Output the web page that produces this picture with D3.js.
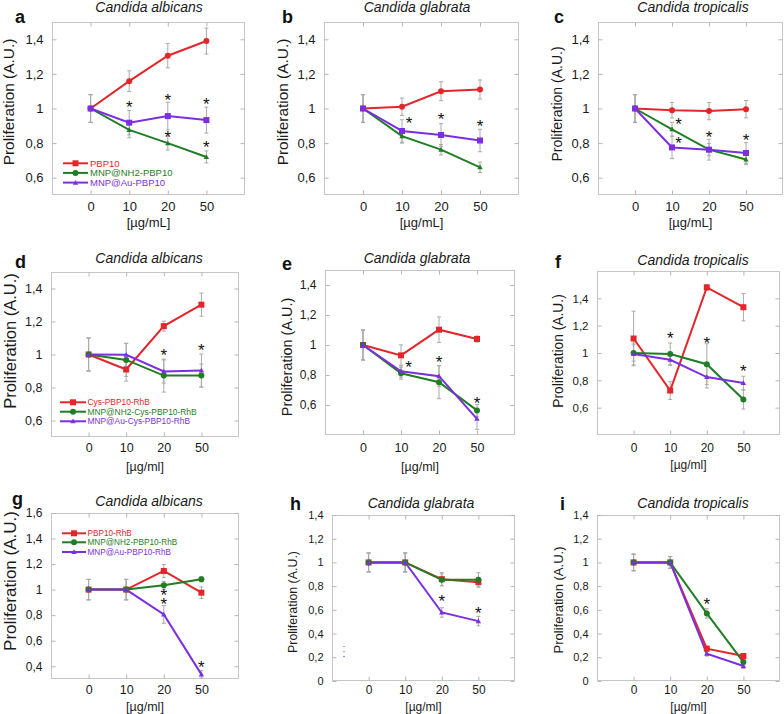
<!DOCTYPE html>
<html><head><meta charset="utf-8">
<script src="https://cdn.jsdelivr.net/npm/d3@7"></script>
<style>
html,body{margin:0;padding:0;background:#fff;}
svg{display:block;font-family:"Liberation Sans",Arial,sans-serif;}
</style></head>
<body>
<svg id="chart" width="784" height="714"></svg>
<script>
// ---------- DATA ----------
const doses = ["0", "10", "20", "50"];
const seriesColors = ["#e3262b", "#1f7d24", "#7b2fe0"];

const legendRow1 = ["PBP10", "MNP@NH2-PBP10", "MNP@Au-PBP10"];
const legendRow2 = ["Cys-PBP10-RhB", "MNP@NH2-Cys-PBP10-RhB", "MNP@Au-Cys-PBP10-RhB"];
const legendRow3 = ["PBP10-RhB", "MNP@NH2-PBP10-RhB", "MNP@Au-PBP10-RhB"];

const titles = ["Candida albicans", "Candida glabrata", "Candida tropicalis"];
const panelLetters = ["a", "b", "c", "d", "e", "f", "g", "h", "i"];
const yLabel = "Proliferation (A.U.)";
const xLabels = ["[µg/mL]", "[µg/ml]", "[µg/ml]"];

const ticksA = [0.6, 0.8, 1, 1.2, 1.4];
const ticksF = [0.6, 0.8, 1, 1.2, 1.4];
const ticksG = [0.4, 0.6, 0.8, 1, 1.2, 1.4, 1.6];
const ticksH = [0, 0.2, 0.4, 0.6, 0.8, 1, 1.2, 1.4];

// panel a
const aRed = [1.0, 1.158, 1.305, 1.39],   aRedErr = [0.08, 0.06, 0.07, 0.075];
const aGreen = [1.0, 0.876, 0.80, 0.72],  aGreenErr = [0.08, 0.045, 0.04, 0.035];
const aPurple = [1.0, 0.918, 0.956, 0.933], aPurpleErr = [0.08, 0.07, 0.08, 0.075];
const aStars = [[1, 1.03], [2, 1.07], [3, 1.05], [2, 0.86], [3, 0.80]];
// panel b
const bRed = [1.0, 1.01, 1.10, 1.11],     bRedErr = [0.08, 0.05, 0.055, 0.055];
const bGreen = [1.0, 0.84, 0.762, 0.66],  bGreenErr = [0.08, 0.04, 0.03, 0.03];
const bPurple = [1.0, 0.87, 0.847, 0.815], bPurpleErr = [0.08, 0.065, 0.065, 0.065];
const bStars = [[1.18, 0.94], [2, 0.96], [3, 0.92]];
// panel c
const cRed = [1.0, 0.99, 0.985, 0.996],   cRedErr = [0.08, 0.045, 0.05, 0.05];
const cGreen = [1.0, 0.88, 0.762, 0.705], cGreenErr = [0.08, 0.04, 0.035, 0.03];
const cPurple = [1.0, 0.775, 0.762, 0.743], cPurpleErr = [0.08, 0.065, 0.06, 0.06];
const cStars = [[1.18, 0.93], [1.18, 0.825], [2, 0.857], [3, 0.838]];
// panel d
const dRed = [1.0, 0.909, 1.172, 1.302],  dRedErr = [0.1, 0.07, 0.03, 0.07];
const dGreen = [1.0, 0.967, 0.872, 0.872], dGreenErr = [0.1, 0.1, 0.1, 0.07];
const dPurple = [1.0, 0.998, 0.897, 0.903], dPurpleErr = [0.1, 0.07, 0.07, 0.1];
const dStars = [[2, 1.02], [3, 1.05]];
// panel e
const eRed = [1.0, 0.931, 1.102, 1.04],   eRedErr = [0.1, 0.07, 0.085, 0.02];
const eGreen = [1.0, 0.812, 0.752, 0.564], eGreenErr = [0.1, 0.04, 0.11, 0.04];
const ePurple = [1.0, 0.825, 0.792, 0.508], ePurpleErr = [0.1, 0.04, 0.07, 0.07];
const eStars = [[1.2, 0.88], [2, 0.91], [3, 0.637]];
// panel f
const fRed = [1.106, 0.725, 1.48, 1.335], fRedErr = [0.2, 0.065, 0.02, 0.1];
const fGreen = [1.0, 0.993, 0.918, 0.66], fGreenErr = [0.06, 0.08, 0.15, 0.07];
const fPurple = [0.993, 0.95, 0.824, 0.78], fPurpleErr = [0.08, 0.04, 0.08, 0.05];
const fStars = [[1, 1.14], [2, 1.10], [3, 0.90]];
// panel g
const gRed = [1.0, 1.0, 1.146, 0.976],    gRedErr = [0.08, 0.08, 0.05, 0.045];
const gGreen = [1.0, 1.0, 1.034, 1.081],  gGreenErr = [0.08, 0.08, 0.03, 0.02];
const gPurple = [1.0, 1.0, 0.806, 0.336], gPurpleErr = [0.08, 0.08, 0.07, 0.03];
const gStars = [[2, 0.985], [2, 0.915], [3, 0.427]];
// panel h
const hRed = [1.0, 1.0, 0.859, 0.833],    hRedErr = [0.08, 0.08, 0.055, 0.04];
const hGreen = [1.0, 1.0, 0.853, 0.853],  hGreenErr = [0.08, 0.08, 0.05, 0.06];
const hPurple = [1.0, 1.0, 0.578, 0.505], hPurpleErr = [0.08, 0.08, 0.04, 0.04];
const hStars = [[2, 0.706], [3, 0.607]];
// panel i
const iRed = [1.0, 1.0, 0.273, 0.211],    iRedErr = [0.07, 0.05, 0.02, 0.02];
const iGreen = [1.0, 1.0, 0.57, 0.16],    iGreenErr = [0.07, 0.05, 0.04, 0.02];
const iPurple = [1.0, 1.0, 0.23, 0.126],  iPurpleErr = [0.07, 0.05, 0.02, 0.02];
const iStars = [[2, 0.683]];

// ---------- LAYOUT ----------
const markersRow1 = ["circle", "triangle", "square"];
const markersOther = ["square", "circle", "triangle"];
const legendMarkers = ["square", "circle", "triangle"];

const panels = [
  {id:0, box:[52,245,22,195], dom:[0.5,1.5], ticks:ticksA, tickFs:13, xFs:13, ylab:[8,102,15.4], title:[149,12], letter:[15,23], xt:[211,227],
   series:[[aRed,aRedErr],[aGreen,aGreenErr],[aPurple,aPurpleErr]], mk:markersRow1, stars:aStars, xl:0,
   legend:{labels:legendRow1, x0:63, x1:88, tx:90, ys:[163.3,172.9,182.6], fs:9.5}},
  {id:1, box:[324,519,22,195], dom:[0.5,1.5], ticks:ticksA, tickFs:13, xFs:13, ylab:[282,102,15.4], title:[417,12], letter:[282,23], xt:[211,227],
   series:[[bRed,bRedErr],[bGreen,bGreenErr],[bPurple,bPurpleErr]], mk:markersRow1, stars:bStars, xl:0},
  {id:2, box:[598,783,22,195], dom:[0.5,1.5], ticks:ticksA, tickFs:13, xFs:13, ylab:[557,104,14], title:[693,12], letter:[554,23], xt:[211,227],
   series:[[cRed,cRedErr],[cGreen,cGreenErr],[cPurple,cPurpleErr]], mk:markersRow1, stars:cStars, xl:0},
  {id:3, box:[51,239,272,437], dom:[0.5,1.5], ticks:ticksA, tickFs:12.5, xFs:12.5, ylab:[10,341,16.5], title:[149,263], letter:[15,268], xt:[452,471],
   series:[[dRed,dRedErr],[dGreen,dGreenErr],[dPurple,dPurpleErr]], mk:markersOther, stars:dStars, xl:1,
   legend:{labels:legendRow2, x0:60, x1:86, tx:87.5, ys:[402.3,411.7,421.3], fs:8.4}},
  {id:4, box:[325,515,270,435], dom:[0.4,1.5], ticks:ticksA, tickFs:12, xFs:12.5, ylab:[287,357,14.4], title:[417,263], letter:[282,270], xt:[452,471],
   series:[[eRed,eRedErr],[eGreen,eGreenErr],[ePurple,ePurpleErr]], mk:markersOther, stars:eStars, xl:1},
  {id:5, box:[597,780,271,435], dom:[0.4,1.6], ticks:ticksF, tickFs:11.5, xFs:12, ylab:[558,351,13.8], title:[693,265], letter:[555,268], xt:[452,469],
   series:[[fRed,fRedErr],[fGreen,fGreenErr],[fPurple,fPurpleErr]], mk:markersOther, stars:fStars, xl:1},
  {id:6, box:[51,239,513,679], dom:[0.3,1.6], ticks:ticksG, tickFs:12, xFs:12.5, ylab:[10,581,17], title:[149,506], letter:[12,505], xt:[694,711],
   series:[[gRed,gRedErr],[gGreen,gGreenErr],[gPurple,gPurpleErr]], mk:markersOther, stars:gStars, xl:2,
   legend:{labels:legendRow3, x0:62, x1:86, tx:87.5, ys:[533.3,542.3,552], fs:8.2}},
  {id:7, box:[332,515,515,681], dom:[0,1.4], ticks:ticksH, tickFs:11, xFs:12, ylab:[293,602,12.4], title:[421,508], letter:[290,510], xt:[694,711],
   series:[[hRed,hRedErr],[hGreen,hGreenErr],[hPurple,hPurpleErr]], mk:markersOther, stars:hStars, xl:2, dots:true},
  {id:8, box:[597,780,515,681], dom:[0,1.4], ticks:ticksH, tickFs:11, xFs:12, ylab:[558,600,13], title:[693,508], letter:[560,510], xt:[694,711],
   series:[[iRed,iRedErr],[iGreen,iGreenErr],[iPurple,iPurpleErr]], mk:markersOther, stars:iStars, xl:2}
];

const svg = d3.select("#chart");
const fmt = v => (v === 0 ? "0" : v === 1 ? "1" : d3.format(".1f")(v).replace(".", ","));

function drawMarker(g, type, x, y, color, s) {
  if (type === "square") {
    g.append("rect").attr("x", x - s/2).attr("y", y - s/2).attr("width", s).attr("height", s).attr("fill", color);
  } else if (type === "circle") {
    g.append("circle").attr("cx", x).attr("cy", y).attr("r", s/2).attr("fill", color);
  } else {
    const h = s * 0.9;
    g.append("path").attr("d", `M${x},${y - h*0.6}L${x + h*0.6},${y + h*0.45}L${x - h*0.6},${y + h*0.45}Z`).attr("fill", color);
  }
}

panels.forEach(p => {
  const [L, R, T, B] = p.box;
  const x = d3.scaleLinear().domain([-1, 4]).range([L, R]);
  const y = d3.scaleLinear().domain(p.dom).range([B, T]);
  const g = svg.append("g");

  g.append("rect").attr("x", L + 0.5).attr("y", T + 0.5).attr("width", R - L - 1).attr("height", B - T - 1)
    .attr("fill", "none").attr("stroke", "#c6c6c6").attr("stroke-width", 1);

  const yAxis = d3.axisLeft(y).tickValues(p.ticks).tickFormat(fmt).tickSizeInner(-4).tickSizeOuter(0).tickPadding(9);
  const ya = g.append("g").attr("transform", `translate(${L + 0.5},0)`).call(yAxis);
  ya.select(".domain").remove();
  ya.selectAll(".tick line").attr("stroke", "#b5b5b5");
  ya.selectAll(".tick text").attr("font-size", p.tickFs).attr("fill", "#1a1a1a").attr("font-family", "'Liberation Sans',Arial,sans-serif");
  const yr = g.append("g").attr("transform", `translate(${R - 0.5},0)`).call(d3.axisRight(y).tickValues(p.ticks).tickFormat("").tickSizeInner(-4).tickSizeOuter(0));
  yr.select(".domain").remove();
  yr.selectAll(".tick line").attr("stroke", "#b5b5b5");

  const xAxis = d3.axisBottom(x).tickValues([0,1,2,3]).tickFormat(i => doses[i]).tickSizeInner(-4).tickSizeOuter(0).tickPadding(0);
  const xa = g.append("g").attr("transform", `translate(0,${B - 0.5})`).call(xAxis);
  xa.select(".domain").remove();
  xa.selectAll(".tick line").attr("stroke", "#b5b5b5");
  xa.selectAll(".tick text").attr("font-size", p.xFs).attr("fill", "#1a1a1a").attr("dy", null)
    .attr("y", p.xt[0] - B).attr("font-family", "'Liberation Sans',Arial,sans-serif");
  const xt = g.append("g").attr("transform", `translate(0,${T + 0.5})`).call(d3.axisTop(x).tickValues([0,1,2,3]).tickFormat("").tickSizeInner(-4).tickSizeOuter(0));
  xt.select(".domain").remove();
  xt.selectAll(".tick line").attr("stroke", "#b5b5b5");

  g.append("text").attr("x", (x(0) + x(3)) / 2).attr("y", p.xt[1]).attr("text-anchor", "middle")
    .attr("font-size", p.xFs).attr("fill", "#1a1a1a").text(xLabels[p.xl]);

  g.append("text").attr("transform", `translate(${p.ylab[0] + p.ylab[2]*0.36},${p.ylab[1]}) rotate(-90)`)
    .attr("text-anchor", "middle").attr("font-size", p.ylab[2]).attr("fill", "#1a1a1a").text(yLabel);

  g.append("text").attr("x", p.title[0]).attr("y", p.title[1]).attr("text-anchor", "middle")
    .attr("font-size", 14).attr("font-style", "italic").attr("fill", "#1a1a1a").text(titles[p.id % 3]);

  g.append("text").attr("x", p.letter[0]).attr("y", p.letter[1]).attr("font-size", 18).attr("font-weight", "bold")
    .attr("fill", "#111").text(panelLetters[p.id]);

  p.series.forEach(([vals, errs]) => {
    vals.forEach((v, i) => {
      const e = errs[i];
      const cx = x(i);
      g.append("line").attr("x1", cx).attr("x2", cx).attr("y1", y(v - e)).attr("y2", y(v + e)).attr("stroke", "#aaaaaa").attr("stroke-width", 1);
      [v - e, v + e].forEach(w => g.append("line").attr("x1", cx - 2).attr("x2", cx + 2).attr("y1", y(w)).attr("y2", y(w)).attr("stroke", "#aaaaaa").attr("stroke-width", 1));
    });
  });

  const line = d3.line().x((d, i) => x(i)).y(d => y(d));
  p.series.forEach(([vals], si) => {
    g.append("path").attr("d", line(vals)).attr("fill", "none").attr("stroke", seriesColors[si]).attr("stroke-width", 2);
  });
  p.series.forEach(([vals], si) => {
    const t = p.mk[si];
    vals.forEach((v, i) => drawMarker(g, t, x(i), y(v), seriesColors[si], t === "triangle" ? 5 : 6));
  });

  p.stars.forEach(([xi, v]) => {
    g.append("text").attr("x", x(xi)).attr("y", y(v) + 0.58 * 17).attr("text-anchor", "middle")
      .attr("font-size", 17).attr("fill", "#111").text("*");
  });

  if (p.legend) {
    p.legend.labels.forEach((lab, k) => {
      const ly = p.legend.ys[k];
      g.append("line").attr("x1", p.legend.x0).attr("x2", p.legend.x1).attr("y1", ly).attr("y2", ly)
        .attr("stroke", seriesColors[k]).attr("stroke-width", 2);
      drawMarker(g, legendMarkers[k], (p.legend.x0 + p.legend.x1) / 2, ly, seriesColors[k], legendMarkers[k] === "triangle" ? 5 : 6);
      g.append("text").attr("x", p.legend.tx).attr("y", ly + p.legend.fs * 0.36).attr("font-size", p.legend.fs)
        .attr("fill", seriesColors[k]).text(lab);
    });
  }

  if (p.dots) {
    [0, 1, 2].forEach(k => {
      g.append("circle").attr("cx", L + 12).attr("cy", y(0.29 - k * 0.042)).attr("r", 0.7).attr("fill", seriesColors[k]);
    });
  }
});
</script>
</body></html>
